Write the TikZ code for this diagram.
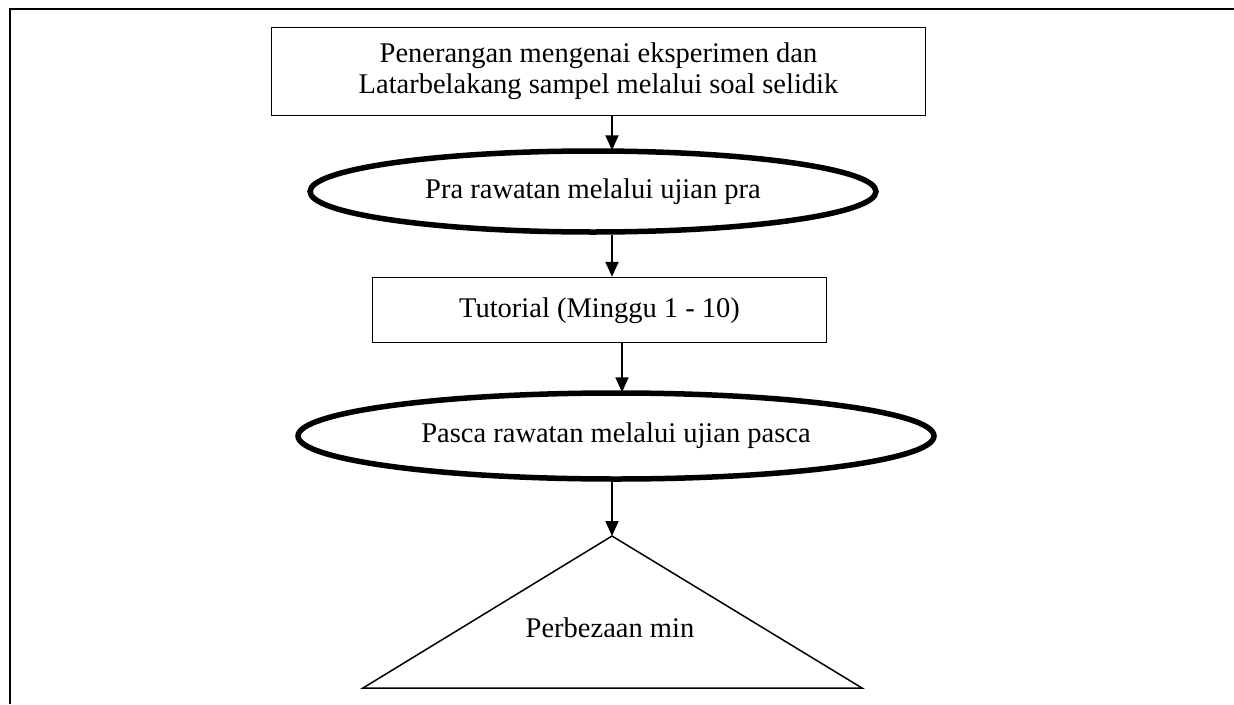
\documentclass[tikz,border=0pt]{standalone}
\usepackage{fontspec}
\setmainfont{Liberation Serif}
\usetikzlibrary{shapes.geometric,arrows.meta}
\begin{document}
\begin{tikzpicture}[x=1pt,y=-1pt,
 txt/.style={font=\fontsize{28.5}{31}\selectfont},
 box/.style={draw,line width=1.5pt,rectangle,inner sep=0pt,align=center,txt},
 oval/.style={draw,line width=5.5pt,ellipse,inner sep=0pt,txt},
 arr/.style={line width=2pt,-{Triangle[length=15pt,width=13pt]}},
 frame/.style={line width=2.5pt},
 tri/.style={line width=1.5pt,line join=miter}]
\useasboundingbox (0,0) rectangle (1234,704);
\coordinate (fa) at (1234,9);
\coordinate (fb) at (10,9);
\coordinate (fc) at (10,704);
\draw[frame] (fa) -- (fb) -- (fc);

\node[box,minimum width=654pt,minimum height=88pt] (b1) at (598.5,71.5)
  {Penerangan mengenai eksperimen dan\\Latarbelakang sampel melalui soal selidik};
\node[oval,minimum width=566pt,minimum height=81pt] (e1) at (593,191.5) {Pra rawatan melalui ujian pra};
\node[box,minimum width=454pt,minimum height=65pt,text depth=0pt] (b2) at (599.5,310) {\raisebox{4pt}{Tutorial (Minggu 1 - 10)}};
\node[oval,minimum width=636pt,minimum height=86pt] (e2) at (616,436) {Pasca rawatan melalui ujian pasca};

\coordinate (apex) at (612,536);
\coordinate (bl) at (363,688);
\coordinate (br) at (862,688);
\draw[tri] (apex) -- (br) -- (bl) -- cycle;
\node[txt] (t) at (610,628) {Perbezaan min};

\coordinate (xa) at (612,0);
\coordinate (xb) at (622,0);
\draw[arr] (b1.south -| xa) -- ([yshift=-2pt]e1.north -| xa);
\draw[arr] (e1.south -| xa) -- (b2.north -| xa);
\draw[arr] (b2.south -| xb) -- ([yshift=-2pt]e2.north -| xb);
\draw[arr] (e2.south -| xa) -- (apex);
\end{tikzpicture}
\end{document}
